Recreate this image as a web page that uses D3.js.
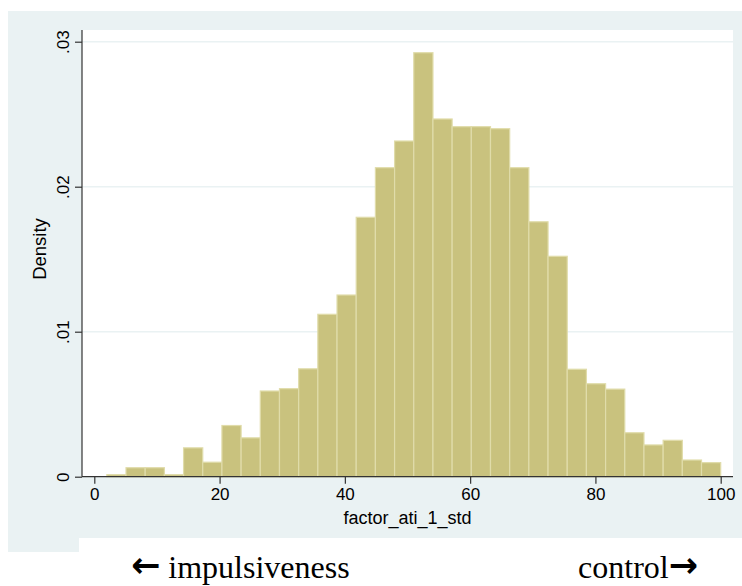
<!DOCTYPE html>
<html><head><meta charset="utf-8">
<script src="https://cdn.jsdelivr.net/npm/d3@7"></script>
<style>html,body{margin:0;padding:0;background:#fff;}svg{display:block;}</style>
</head><body>
<script>
// Histogram of factor_ati_1_std: 32 bins from 2 to 100
const binStart = 2.0;
const binEnd = 100;
const densities = [0.00014,0.00062,0.00062,0.00014,0.00199,0.00100,0.00353,0.00268,
  0.00591,0.00607,0.00744,0.0112,0.01253,0.01789,0.02131,0.02315,
  0.02924,0.02467,0.02414,0.02414,0.0240,0.02131,0.01758,0.0152,
  0.00741,0.00641,0.00604,0.00303,0.00219,0.00251,0.00115,0.00097];
const xTicks = [0,20,40,60,80,100];
const yTicks = [0,0.01,0.02,0.03];
const yTickLabels = ["0",".01",".02",".03"];
const xTitle = "factor_ati_1_std";
const yTitle = "Density";
const leftArrow = "\u2190", leftWord = "impulsiveness";
const rightWord = "control", rightArrow = "\u2192";

const W = 742, H = 586;
const svg = d3.select("body").append("svg").attr("width", W).attr("height", H);

const binW = (binEnd - binStart) / densities.length;
const bins = densities.map((d, i) => ({x0: binStart + i * binW, x1: binStart + (i + 1) * binW, d}));

const x = d3.scaleLinear().domain([0, 100]).range([94.3, 720.7]);
const y = d3.scaleLinear().domain([0, 0.03]).range([476.7, 41.7]);

// background
svg.append("rect").attr("x", 8).attr("y", 11).attr("width", W - 8).attr("height", 541).attr("fill", "#eaf2f3");
svg.append("rect").attr("x", 79).attr("y", 538).attr("width", W - 79).attr("height", H - 538).attr("fill", "#fff");
// plot region
const plotL = 82, plotR = 733, plotT = 30, plotB = 476.7;
svg.append("rect").attr("x", plotL).attr("y", plotT).attr("width", plotR - plotL).attr("height", plotB - plotT).attr("fill", "#fff");

// gridlines
svg.append("g").selectAll("line").data(yTicks.slice(1)).join("line")
  .attr("x1", plotL).attr("x2", plotR).attr("y1", d => y(d)).attr("y2", d => y(d))
  .attr("stroke", "#eaf2f3").attr("stroke-width", 1.5);

// bars
svg.append("g").selectAll("rect").data(bins).join("rect")
  .attr("x", d => x(d.x0)).attr("width", d => x(d.x1) - x(d.x0))
  .attr("y", d => y(d.d)).attr("height", d => y(0) - y(d.d))
  .attr("fill", "#c9c27e").attr("stroke", "#e0dcaa").attr("stroke-width", 1.2);

// axes
const fontSans = "'Liberation Sans', Arial, Helvetica, sans-serif";
const xAxis = d3.axisBottom(x).tickValues(xTicks).tickSize(7).tickPadding(4).tickFormat(d3.format("d"));
const gx = svg.append("g").attr("transform", `translate(0,${plotB})`).call(xAxis);
gx.select(".domain").remove();
gx.append("line").attr("x1", plotL).attr("x2", plotR).attr("stroke", "#333").attr("stroke-width", 1.2);
gx.selectAll(".tick line").attr("stroke", "#333").attr("stroke-width", 1.2);
gx.selectAll(".tick text").attr("font-family", fontSans).attr("font-size", 17).attr("fill", "#000");

const yAxis = d3.axisLeft(y).tickValues(yTicks).tickSize(7).tickFormat((d, i) => yTickLabels[i]);
const gy = svg.append("g").attr("transform", `translate(${plotL},0)`).call(yAxis);
gy.select(".domain").remove();
gy.append("line").attr("y1", plotT).attr("y2", plotB).attr("stroke", "#333").attr("stroke-width", 1.2);
gy.selectAll(".tick line").attr("stroke", "#333").attr("stroke-width", 1.2);
gy.selectAll(".tick text").attr("font-family", fontSans).attr("font-size", 17).attr("fill", "#000")
  .attr("x", null).attr("dy", null)
  .attr("text-anchor", "middle")
  .attr("transform", "translate(-13,0) rotate(-90)");

// titles
svg.append("text").attr("x", (plotL + plotR) / 2).attr("y", 524).attr("text-anchor", "middle")
  .attr("font-family", fontSans).attr("font-size", 18).text(xTitle);
svg.append("text").attr("transform", "translate(46,249) rotate(-90)").attr("text-anchor", "middle")
  .attr("font-family", fontSans).attr("font-size", 18.5).text(yTitle);

// notes
const fontSerif = "'Liberation Serif', 'Times New Roman', serif";
const fontArrow = "'DejaVu Sans', sans-serif";
const tl = svg.append("text").attr("x", 131).attr("y", 578).attr("font-family", fontSerif).attr("font-size", 32);
tl.append("tspan").attr("font-family", fontArrow).attr("font-weight", "bold").attr("font-size", 35).attr("dy", -1).text(leftArrow);
tl.append("tspan").attr("dy", 1).text(" " + leftWord);
const tr = svg.append("text").attr("x", 698).attr("y", 578).attr("text-anchor", "end").attr("font-family", fontSerif).attr("font-size", 32);
tr.append("tspan").text(rightWord);
tr.append("tspan").attr("font-family", fontArrow).attr("font-weight", "bold").attr("font-size", 35).attr("dy", -1).text(rightArrow);
</script>
</body></html>
